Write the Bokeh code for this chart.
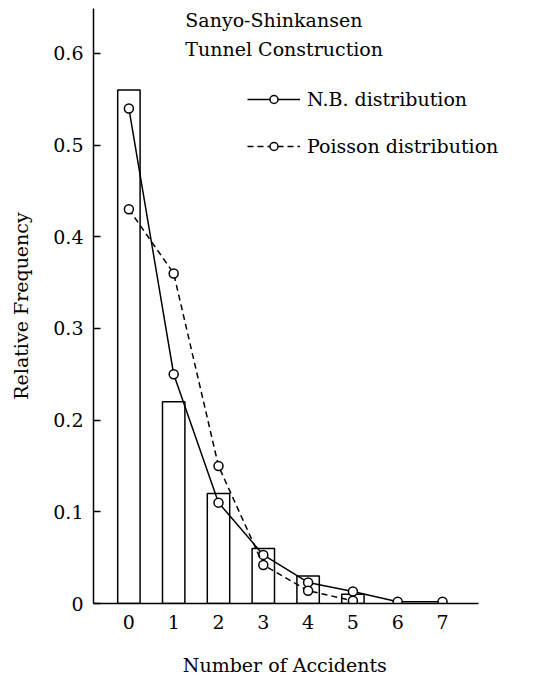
from bokeh.plotting import figure
from bokeh.models import ColumnDataSource, FixedTicker, Label, Legend, LegendItem, Range1d
from bokeh.embed import file_html
from bokeh.resources import INLINE

# ---- data ----
accidents = [0, 1, 2, 3, 4, 5]
observed = [0.56, 0.22, 0.12, 0.06, 0.03, 0.01]
nb_x = [0, 1, 2, 3, 4, 5, 6, 7]
nb_freq = [0.54, 0.25, 0.11, 0.053, 0.023, 0.013, 0.002, 0.002]
poisson_x = [0, 1, 2, 3, 4, 5]
poisson_freq = [0.43, 0.36, 0.15, 0.042, 0.014, 0.003]
y_ticks = [0, 0.1, 0.2, 0.3, 0.4, 0.5, 0.6]
x_ticks = [0, 1, 2, 3, 4, 5, 6, 7]
title_lines = ["Sanyo-Shinkansen", "Tunnel Construction"]
x_label = "Number of Accidents"
y_label = "Relative Frequency"

FONT = "DejaVu Serif"
FS = "19px"

p = figure(width=534, height=678, output_backend="svg", toolbar_location=None,
           x_range=Range1d(-0.79, 8.83), y_range=Range1d(0, 0.649),
           min_border_left=93, min_border_right=10, min_border_top=8, min_border_bottom=75)
p.background_fill_color = "white"
p.border_fill_color = "white"
p.outline_line_color = None
p.xgrid.visible = False
p.ygrid.visible = False

# bars
p.vbar(x=accidents, top=observed, width=0.5, fill_alpha=0,
       line_color="black", line_width=1.5)

# N.B. distribution
src_nb = ColumnDataSource(dict(x=nb_x, y=nb_freq))
l_nb = p.line("x", "y", source=src_nb, line_color="black", line_width=1.5)
c_nb = p.scatter("x", "y", source=src_nb, marker="circle", size=9,
                 fill_color="white", line_color="black", line_width=1.5)

# Poisson distribution
src_po = ColumnDataSource(dict(x=poisson_x, y=poisson_freq))
l_po = p.line("x", "y", source=src_po, line_color="black", line_width=1.5, line_dash="6 4")
c_po = p.scatter("x", "y", source=src_po, marker="circle", size=9,
                 fill_color="white", line_color="black", line_width=1.5)

# axes
p.yaxis.ticker = FixedTicker(ticks=y_ticks)
p.yaxis.major_label_overrides = {0: "0"}
p.yaxis.major_tick_in = 7
p.yaxis.major_tick_out = 0
p.yaxis.minor_tick_line_color = None
p.yaxis.major_label_standoff = 10
p.yaxis.axis_label = y_label
p.yaxis.axis_label_standoff = 18

p.xaxis.ticker = FixedTicker(ticks=x_ticks)
p.xaxis.bounds = (-0.79, 7.8)
p.xaxis.major_tick_in = 0
p.xaxis.major_tick_out = 0
p.xaxis.minor_tick_line_color = None
p.xaxis.major_label_standoff = 11
# trailing no-break spaces shift the centred label left, under the drawn axis
p.xaxis.axis_label = x_label + "\u00a0" * 8
p.xaxis.axis_label_standoff = 22

for ax in (p.xaxis[0], p.yaxis[0]):
    ax.axis_line_color = "black"
    ax.axis_line_width = 1.5
    ax.major_tick_line_color = "black"
    ax.major_tick_line_width = 1.5
    ax.major_label_text_font = FONT
    ax.major_label_text_font_size = FS
    ax.major_label_text_color = "black"
    ax.axis_label_text_font = FONT
    ax.axis_label_text_font_size = FS
    ax.axis_label_text_font_style = "normal"
    ax.axis_label_text_color = "black"

# title text
p.add_layout(Label(x=1.26, y=0.636, text=title_lines[0], text_font=FONT,
                   text_font_size=FS, text_baseline="middle", text_color="black"))
p.add_layout(Label(x=1.26, y=0.605, text=title_lines[1], text_font=FONT,
                   text_font_size=FS, text_baseline="middle", text_color="black"))

legend = Legend(items=[LegendItem(label="N.B. distribution", renderers=[l_nb, c_nb]),
                       LegendItem(label="Poisson distribution", renderers=[l_po, c_po])],
                location=(154, 446), border_line_color=None, background_fill_alpha=0,
                padding=0, margin=0, glyph_width=53, glyph_height=20, label_height=20,
                spacing=25, label_standoff=7,
                label_text_font=FONT, label_text_font_size=FS, label_text_color="black")
p.add_layout(legend)

open("out.html", "w").write(file_html(p, INLINE))
